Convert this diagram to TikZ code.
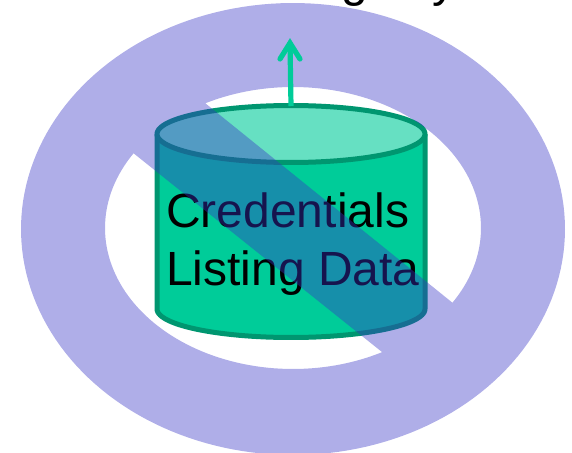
\documentclass[tikz,border=0pt]{standalone}
\usepackage{fontspec}
\setmainfont{Liberation Sans}
\definecolor{bargreen}{HTML}{00CC99}
\definecolor{topgreen}{HTML}{66E0C2}
\definecolor{edgegreen}{HTML}{009670}
\definecolor{signblue}{RGB}{55,52,197}
\tikzset{
  px/.style={x=0.75pt,y=-0.75pt},
  cyl/.style={draw=edgegreen,line width=3.75pt,line join=round},
  lab/.style={anchor=base west,inner sep=0pt,font=\fontsize{36}{36}\selectfont,text=black},
  flow/.style={draw=bargreen,line width=3.9pt,line cap=round,line join=miter}
}
\begin{document}
\begin{tikzpicture}[px]
\useasboundingbox (0,0) rectangle (572,453);
\clip (0,0) rectangle (572,453);
\node[lab] (top) at (280,-3) {Registry};
% cylinder
\fill[bargreen] (157,134) -- plot[domain=180:0,samples=60] ({291+134*cos(\x)},{309+28.5*sin(\x)}) -- (425,134) -- cycle;
\draw[cyl] (157,134) -- plot[domain=180:0,samples=60] ({291+134*cos(\x)},{309+28.5*sin(\x)}) -- (425,134);
\draw[cyl,fill=topgreen] plot[domain=0:360,samples=120] ({291+134*cos(\x)},{134+28.5*sin(\x)}) -- cycle;
\node[lab] (l1) at (166,228) {Credentials};
\node[lab] (l2) at (166,285) {Listing Data};
% prohibition sign
\fill[signblue,opacity=0.4,even odd rule]
  plot[domain=0:360,samples=180] ({293+272*cos(\x)},{229+226*sin(\x)}) -- cycle
  plot[domain=-117.8:32,samples=80] ({293+188*cos(\x)},{228+141*sin(\x)}) -- cycle
  plot[domain=61.7:212,samples=80] ({293+188*cos(\x)},{228+141*sin(\x)}) -- cycle;
% arrow above the sign
\coordinate (arrowstart) at (291,106);
\coordinate (arrowtip) at (290,43);
\coordinate (barbL) at (280,59);
\coordinate (barbR) at (300,59);
\draw[flow,line cap=butt] (arrowstart) -- (arrowtip);
\draw[flow] (barbL) -- (arrowtip) -- (barbR);
\end{tikzpicture}
\end{document}
